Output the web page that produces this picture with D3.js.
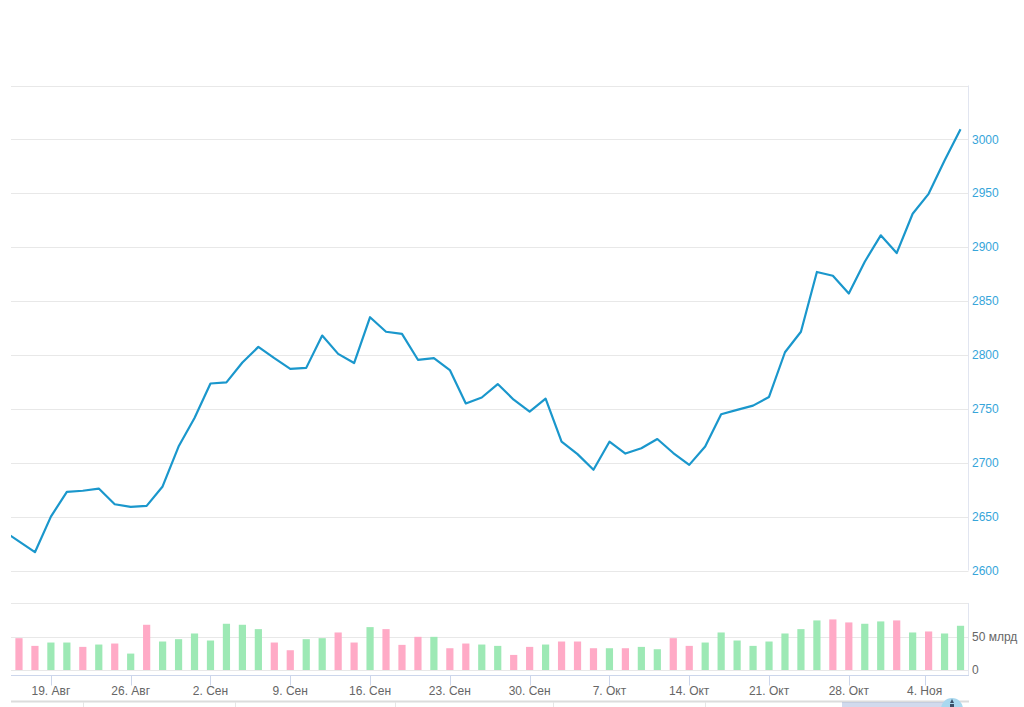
<!DOCTYPE html>
<html><head><meta charset="utf-8">
<script src="https://cdn.jsdelivr.net/npm/d3@7"></script>
<style>html,body{margin:0;padding:0;background:#fff;overflow:hidden}svg{display:block;font-family:"Liberation Sans",Arial,Helvetica,sans-serif}</style>
</head><body>
<svg id="c" width="1024" height="707"></svg>
<script>
// trading days (first one lies just left of the visible window)
const dates = [
 "2019-08-14","2019-08-15","2019-08-16",
 "2019-08-19","2019-08-20","2019-08-21","2019-08-22","2019-08-23",
 "2019-08-26","2019-08-27","2019-08-28","2019-08-29","2019-08-30",
 "2019-09-02","2019-09-03","2019-09-04","2019-09-05","2019-09-06",
 "2019-09-09","2019-09-10","2019-09-11","2019-09-12","2019-09-13",
 "2019-09-16","2019-09-17","2019-09-18","2019-09-19","2019-09-20",
 "2019-09-23","2019-09-24","2019-09-25","2019-09-26","2019-09-27",
 "2019-09-30","2019-10-01","2019-10-02","2019-10-03","2019-10-04",
 "2019-10-07","2019-10-08","2019-10-09","2019-10-10","2019-10-11",
 "2019-10-14","2019-10-15","2019-10-16","2019-10-17","2019-10-18",
 "2019-10-21","2019-10-22","2019-10-23","2019-10-24","2019-10-25",
 "2019-10-28","2019-10-29","2019-10-30","2019-10-31","2019-11-01",
 "2019-11-05","2019-11-06","2019-11-07"
];
// index close values
const closes = [
 2637, 2627, 2617,
 2650, 2673, 2674, 2676, 2661.5,
 2659, 2660, 2678, 2715, 2741.5,
 2773.5, 2774.5, 2793, 2807.5, 2797,
 2787, 2788, 2818, 2801, 2792.5,
 2835, 2821.5, 2819.5, 2795.5, 2797,
 2786, 2755, 2760.5, 2773, 2758.5,
 2747.5, 2759.5, 2719.5, 2708, 2693.5,
 2719.5, 2708.5, 2713.5, 2722, 2709,
 2698, 2715, 2745, 2749, 2753,
 2761, 2802.5, 2821.5, 2877, 2873.5,
 2857, 2886.5, 2911, 2894.5, 2931,
 2949.5, 2980.5, 3009.5
];
// traded volume, billions (from 2019-08-15 on)
const volumes = [
 47.5, 36,
 41, 41, 34.5, 38, 39.5,
 24.5, 67.5, 42.5, 46, 54.5,
 44, 69, 67.5, 61, 41,
 29.5, 46, 47.5, 56, 41,
 64, 61, 37.5, 49.5, 49.5,
 32.5, 39.5, 38, 36, 22.5,
 34.5, 38, 42.5, 42.5, 32.5,
 32.5, 32.5, 34.5, 31, 47.5,
 36, 41, 56, 44, 36,
 42.5, 54.5, 61, 74, 75.5,
 71, 69, 72.5, 74, 56,
 57.5, 54.5, 66
];
// bar direction: u = up (green), d = down (pink)
const volDir = [
 "d","d",
 "u","u","d","u","d",
 "u","d","u","u","u",
 "u","u","u","u","d",
 "d","u","u","d","d",
 "u","d","d","d","u",
 "d","d","u","u","d",
 "d","u","d","d","d",
 "u","d","u","u","d",
 "d","u","u","u","u",
 "u","u","u","u","d",
 "d","u","u","d","u",
 "d","u","u"
];
const priceTicks = [2600, 2650, 2700, 2750, 2800, 2850, 2900, 2950, 3000, 3050];
const priceLabels = ["2600","2650","2700","2750","2800","2850","2900","2950","3000",""];
const volTicks = [0, 50, 100];
const volLabels = ["0", "50 млрд", ""];
const weekTicks = ["2019-08-19","2019-08-26","2019-09-02","2019-09-09","2019-09-16","2019-09-23",
 "2019-09-30","2019-10-07","2019-10-14","2019-10-21","2019-10-28","2019-11-04"];
const weekLabels = ["19. Авг","26. Авг","2. Сен","9. Сен","16. Сен","23. Сен",
 "30. Сен","7. Окт","14. Окт","21. Окт","28. Окт","4. Ноя"];

const svg = d3.select("#c");
const L = 11, R = 968.5;
const parse = d3.utcParse("%Y-%m-%d");
const times = dates.map(parse);

const x = d3.scaleLinear().domain([0.5, dates.length - 0.5]).range([L, R]);
function ordX(ds) {
  const t = parse(ds);
  for (let i = 0; i < times.length - 1; i++) {
    if (t >= times[i] && t <= times[i + 1]) {
      return x(i + (t - times[i]) / (times[i + 1] - times[i]));
    }
  }
  return x(times.length - 1);
}
const y = d3.scaleLinear().domain([2600, 3050]).range([570.5, 85.5]);
const yv = d3.scaleLinear().domain([0, 100]).range([670, 603]);

svg.append("defs").append("clipPath").attr("id", "clip")
  .append("rect").attr("x", L).attr("y", 0).attr("width", R - L).attr("height", 707);

// main grid
const gMain = svg.append("g");
gMain.selectAll("line.grid").data(priceTicks).join("line")
  .attr("x1", L).attr("x2", R)
  .attr("y1", d => Math.round(y(d)) + 0.5).attr("y2", d => Math.round(y(d)) + 0.5)
  .attr("stroke", "#e8e8e8").attr("stroke-width", 1);
gMain.append("line").attr("x1", R).attr("x2", R).attr("y1", y(3050)).attr("y2", y(2600))
  .attr("stroke", "#e1e5f0");
gMain.selectAll("text").data(priceTicks.map((d, i) => [d, priceLabels[i]])).join("text")
  .attr("x", 972).attr("y", d => y(d[0])).attr("dy", "0.35em")
  .attr("font-size", 12).attr("fill", "#36a5da").text(d => d[1]);

// volume grid
const gVol = svg.append("g");
gVol.selectAll("line").data(volTicks).join("line")
  .attr("x1", L).attr("x2", R)
  .attr("y1", d => Math.round(yv(d)) + 0.5).attr("y2", d => Math.round(yv(d)) + 0.5)
  .attr("stroke", "#e8e8e8");
gVol.append("line").attr("x1", R).attr("x2", R).attr("y1", yv(100)).attr("y2", 675.5)
  .attr("stroke", "#e1e5f0");
gVol.selectAll("text").data(volTicks.map((d, i) => [d, volLabels[i]])).join("text")
  .attr("x", 972).attr("y", d => yv(d[0])).attr("dy", "0.35em")
  .attr("font-size", 12).attr("fill", "#666666").text(d => d[1]);

// volume bars
const bw = 7.2;
svg.append("g").attr("clip-path", "url(#clip)")
  .selectAll("rect").data(volumes).join("rect")
  .attr("x", (d, i) => x(i + 1) - bw / 2).attr("width", bw)
  .attr("y", d => yv(d)).attr("height", d => yv(0) - yv(d))
  .attr("fill", (d, i) => volDir[i] === "u" ? "#9de9b5" : "#ffaac6");

// price line
svg.append("path").datum(closes).attr("clip-path", "url(#clip)")
  .attr("fill", "none").attr("stroke", "#1a97cc").attr("stroke-width", 2.2)
  .attr("stroke-linejoin", "round")
  .attr("d", d3.line().x((d, i) => x(i)).y(d => y(d)));

// x axis
const gx = svg.append("g");
gx.append("line").attr("x1", L).attr("x2", R + 0.5).attr("y1", 675.5).attr("y2", 675.5)
  .attr("stroke", "#ccd6eb");
gx.selectAll("line.t").data(weekTicks).join("line").attr("class", "t")
  .attr("x1", d => Math.round(ordX(d)) + 0.5).attr("x2", d => Math.round(ordX(d)) + 0.5)
  .attr("y1", 675.5).attr("y2", 685.5).attr("stroke", "#ccd6eb");
gx.selectAll("text").data(weekTicks.map((d, i) => [d, weekLabels[i]])).join("text")
  .attr("x", d => ordX(d[0])).attr("y", 695).attr("text-anchor", "middle")
  .attr("font-size", 12).attr("fill", "#666666").text(d => d[1]);

// navigator strip (partially visible)
const nav = svg.append("g");
nav.append("line").attr("x1", L).attr("x2", R + 0.5).attr("y1", 701.5).attr("y2", 701.5)
  .attr("stroke", "#dcdcdc").attr("stroke-width", 2);
const navGrid = [83, 235, 395, 553, 705];
nav.selectAll("line.g").data(navGrid).join("line").attr("class", "g")
  .attr("x1", d => d + 0.5).attr("x2", d => d + 0.5).attr("y1", 702).attr("y2", 707)
  .attr("stroke", "#e6e6e6");
nav.append("rect").attr("x", 842).attr("y", 702).attr("width", 112).attr("height", 6)
  .attr("fill", "rgba(102,133,194,0.3)");
nav.append("circle").attr("cx", 952).attr("cy", 709).attr("r", 11).attr("fill", "#a9d8ef");
nav.append("path").attr("d", "M950,703 L952,699 L954,703 Z M950,704 h4 v3 h-4 Z").attr("fill", "#3a5068");
</script>
</body></html>
